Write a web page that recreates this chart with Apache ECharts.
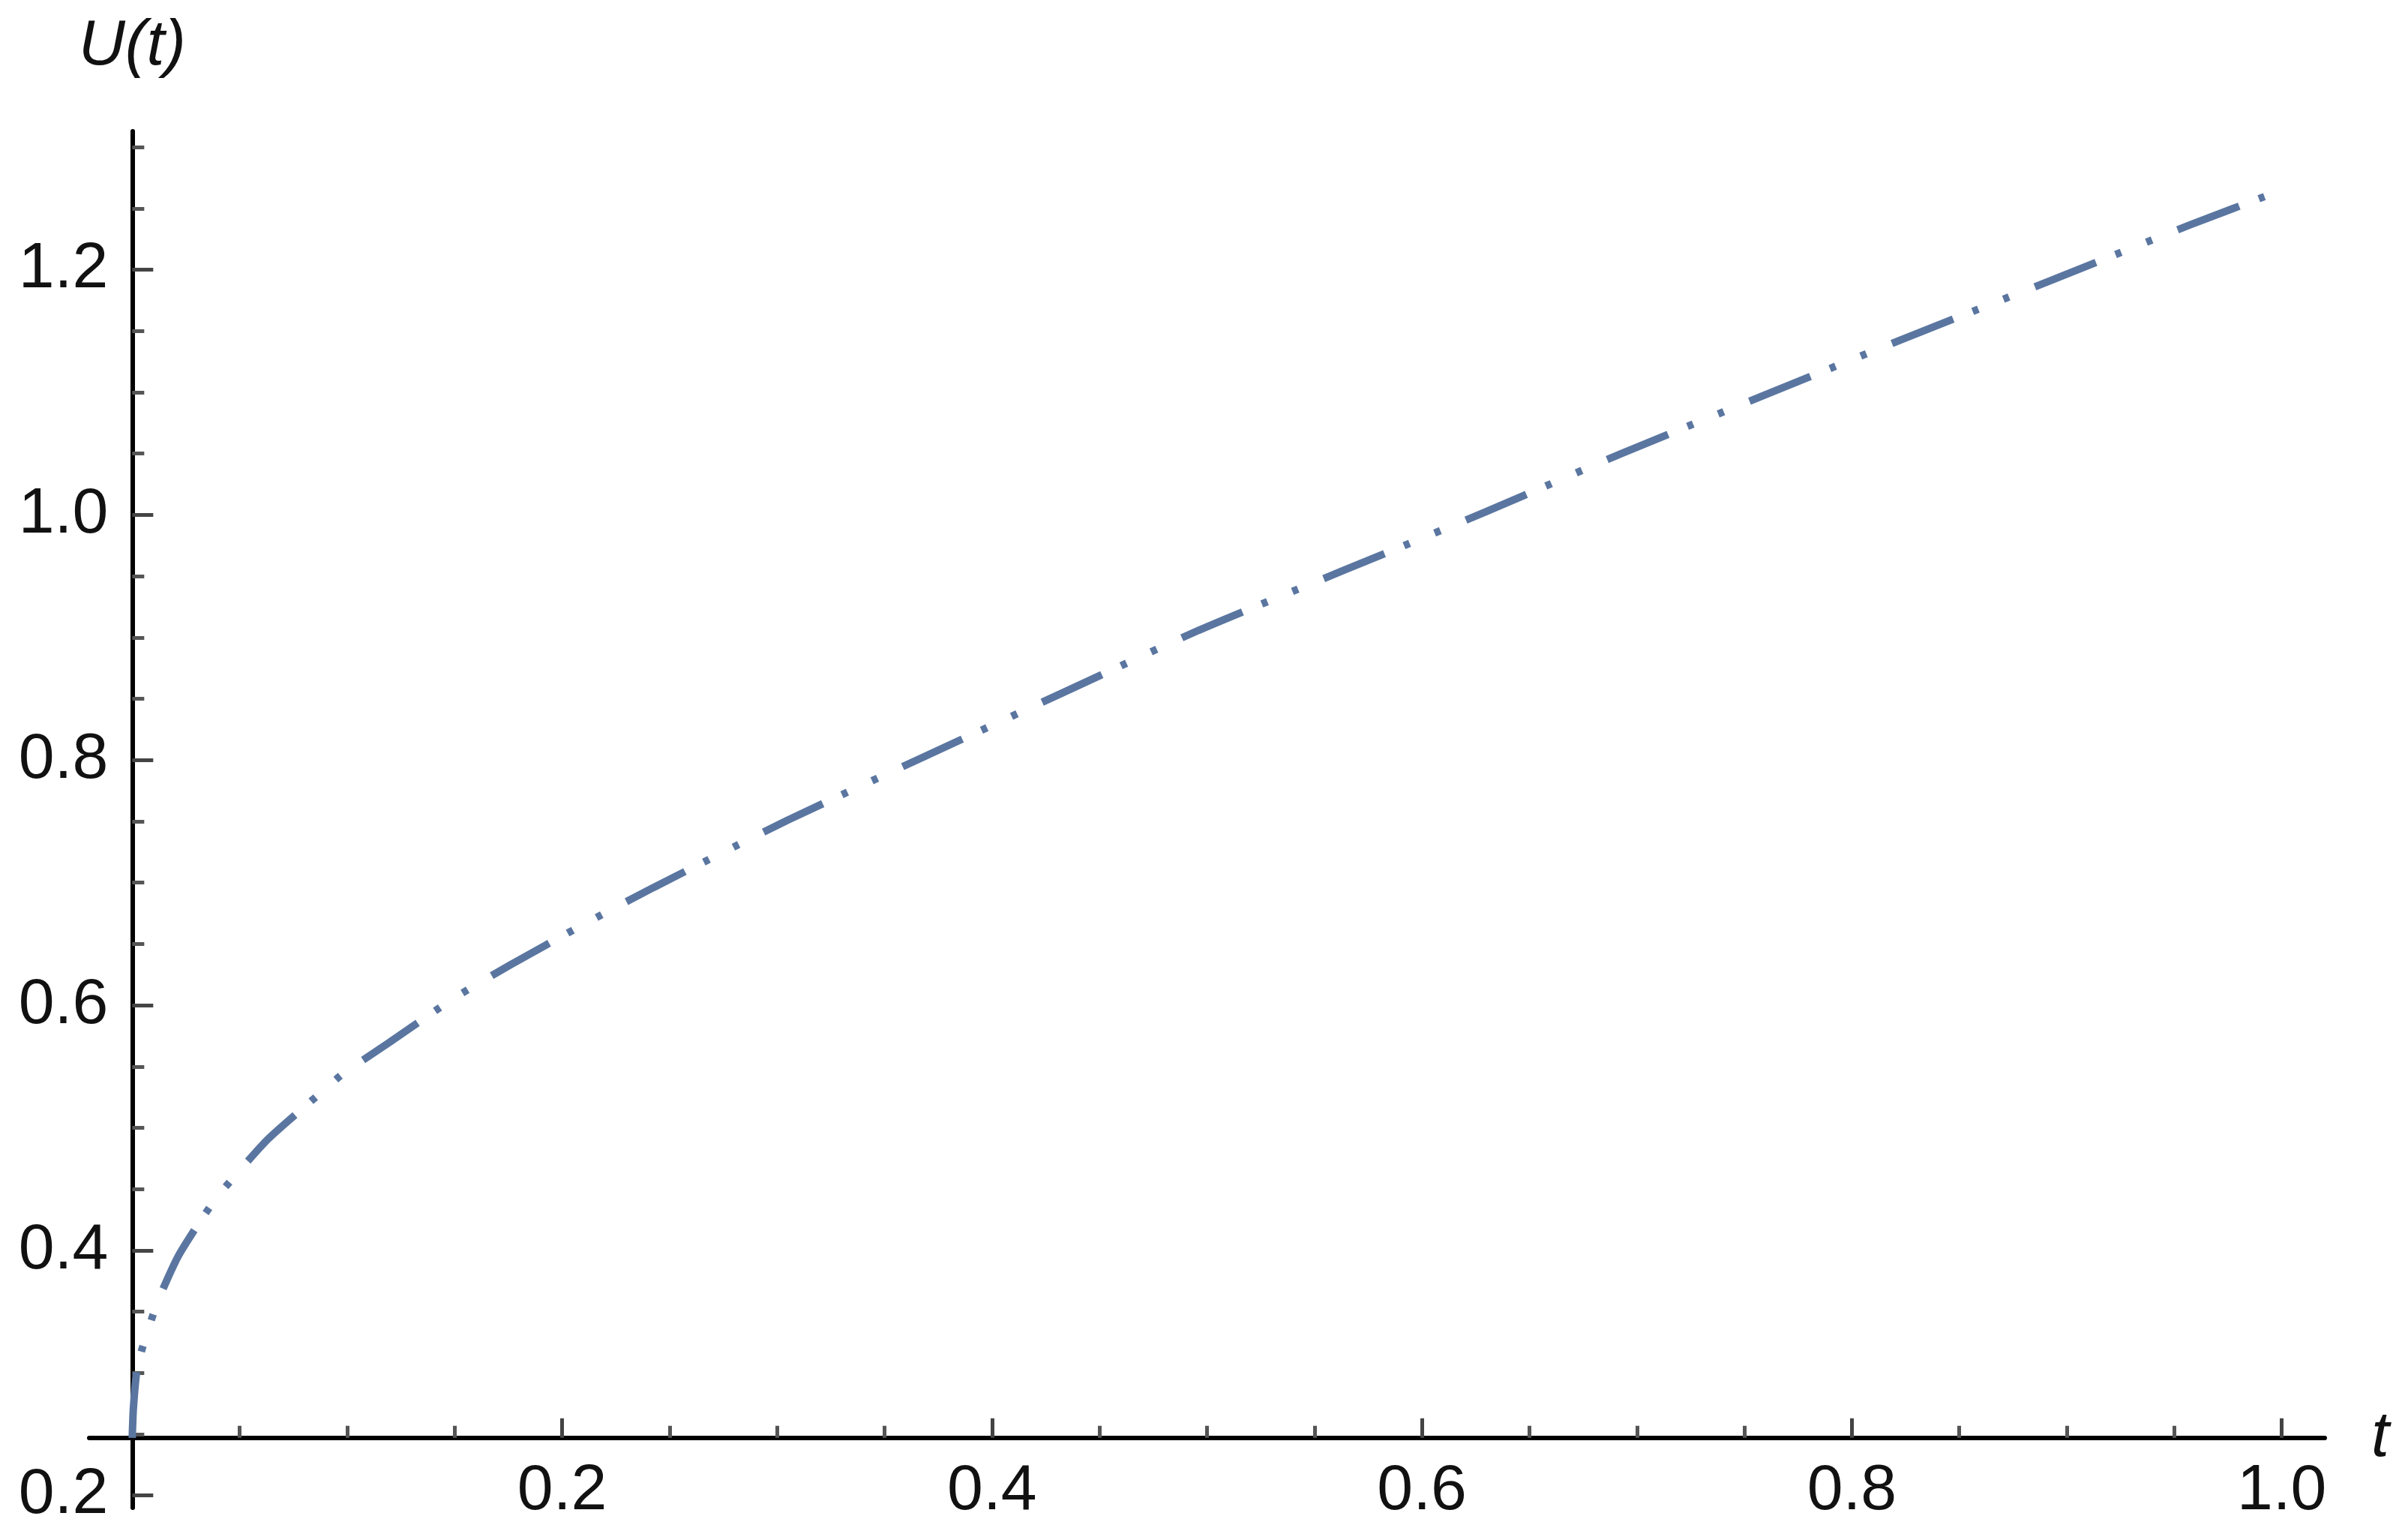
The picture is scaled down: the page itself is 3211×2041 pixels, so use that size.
<!DOCTYPE html>
<html>
<head>
<meta charset="utf-8">
<title>U(t)</title>
<script src="https://cdn.jsdelivr.net/npm/echarts@6/dist/echarts.min.js"></script>
<style>
    html,
    body {
        margin: 0;
        padding: 0;
        background: #fff;
    }

    #chart {
        width: 3211px;
        height: 2041px;
    }
</style>
</head>
<body>
<div id="chart"></div>
<script>
    // curve U(t)
    var tValues = [0, 0.0005, 0.002, 0.004, 0.007, 0.012, 0.0215, 0.034, 0.043, 0.063, 0.086, 0.098,
        0.1195, 0.149, 0.176, 0.209, 0.2425, 0.305, 0.3675, 0.433, 0.4963, 0.5635, 0.6294, 0.6924,
        0.7603, 0.823, 0.8926, 0.957, 1.0]
    var uValues = [0.247, 0.27, 0.30, 0.316, 0.333, 0.359, 0.3955, 0.430, 0.451, 0.4905, 0.526, 0.544,
        0.5695, 0.605, 0.633, 0.665, 0.696, 0.751, 0.802, 0.855, 0.906, 0.9547, 1.0023, 1.0498,
        1.0984, 1.143, 1.1913, 1.2364, 1.265]

    // tick values
    var xMajorTicks = [0.2, 0.4, 0.6, 0.8, 1.0]
    var xMinorTicks = [0.05, 0.1, 0.15, 0.25, 0.3, 0.35, 0.45, 0.5, 0.55, 0.65, 0.7, 0.75, 0.85, 0.9, 0.95]
    var yMajorTicks = [0.2, 0.4, 0.6, 0.8, 1.0, 1.2]
    var yMinorTicks = [0.25, 0.3, 0.35, 0.45, 0.5, 0.55, 0.65, 0.7, 0.75, 0.85, 0.9, 0.95, 1.05, 1.1, 1.15, 1.25, 1.3]

    // plot range and where the axes cross
    var xMin = -0.02, xMax = 1.02
    var yMin = 0.19, yMax = 1.313
    var xCross = 0, yCross = 0.247

    var gridLeft = 119, gridTop = 175, gridWidth = 2981, gridHeight = 1835
    // move the axes into the plot so they meet at (xCross, yCross)
    var xAxisOffset = -(yCross - yMin) / (yMax - yMin) * gridHeight
    var yAxisOffset = -(xCross - xMin) / (xMax - xMin) * gridWidth

    var font = 'Liberation Sans'
    var fmt = function (v) { return Number(v).toFixed(1) }

    var curve = tValues.map(function (t, i) { return [t, uValues[i]] })

    var chart = echarts.init(document.getElementById('chart'), null, { renderer: 'canvas' })
    chart.setOption({
        backgroundColor: '#fff',
        animation: false,
        grid: {
            left: gridLeft,
            top: gridTop,
            width: gridWidth,
            height: gridHeight,
            containLabel: false,
            outerBoundsMode: 'none'
        },
        xAxis: [{
            // major ticks, labels, line
            type: 'value',
            position: 'bottom',
            min: xMin,
            max: xMax,
            offset: xAxisOffset,
            name: 't',
            nameLocation: 'end',
            nameGap: 62,
            nameMoveOverlap: false,
            nameTextStyle: { fontFamily: font, fontStyle: 'italic', fontSize: 86, color: '#111' },
            axisLine: { show: true, onZero: false, lineStyle: { color: '#000', width: 6 } },
            axisTick: { show: true, inside: true, length: 26, customValues: xMajorTicks, lineStyle: { color: '#444', width: 5 } },
            axisLabel: { show: true, customValues: xMajorTicks, formatter: fmt, margin: 28, fontFamily: font, fontSize: 86, color: '#111' },
            splitLine: { show: false }
        }, {
            // minor ticks only
            type: 'value',
            position: 'bottom',
            min: xMin,
            max: xMax,
            offset: xAxisOffset,
            axisLine: { show: false, onZero: false },
            axisTick: { show: true, inside: true, length: 16, customValues: xMinorTicks, lineStyle: { color: '#555', width: 5 } },
            axisLabel: { show: false },
            splitLine: { show: false }
        }],
        yAxis: [{
            type: 'value',
            position: 'left',
            min: yMin,
            max: yMax,
            offset: yAxisOffset,
            name: 'U(t)',
            nameLocation: 'end',
            nameGap: 70,
            nameMoveOverlap: false,
            nameTextStyle: { fontFamily: font, fontStyle: 'italic', fontSize: 86, color: '#111' },
            axisLine: { show: true, onZero: false, lineStyle: { color: '#000', width: 6 } },
            axisTick: { show: true, inside: true, length: 28, customValues: yMajorTicks, lineStyle: { color: '#444', width: 5 } },
            axisLabel: { show: true, customValues: yMajorTicks, formatter: fmt, margin: 32, fontFamily: font, fontSize: 86, color: '#111' },
            splitLine: { show: false }
        }, {
            type: 'value',
            position: 'left',
            min: yMin,
            max: yMax,
            offset: yAxisOffset,
            axisLine: { show: false, onZero: false },
            axisTick: { show: true, inside: true, length: 16, customValues: yMinorTicks, lineStyle: { color: '#555', width: 5 } },
            axisLabel: { show: false },
            splitLine: { show: false }
        }],
        series: [{
            type: 'line',
            xAxisIndex: 0,
            yAxisIndex: 0,
            data: curve,
            showSymbol: false,
            smooth: 0.2,
            z: 1,
            lineStyle: {
                color: '#5a76a0',
                width: 10,
                cap: 'butt',
                // long dash, dot, dot
                type: [88, 28, 8, 36, 8, 37],
                dashOffset: 0
            }
        }]
    })
</script>
</body>
</html>
